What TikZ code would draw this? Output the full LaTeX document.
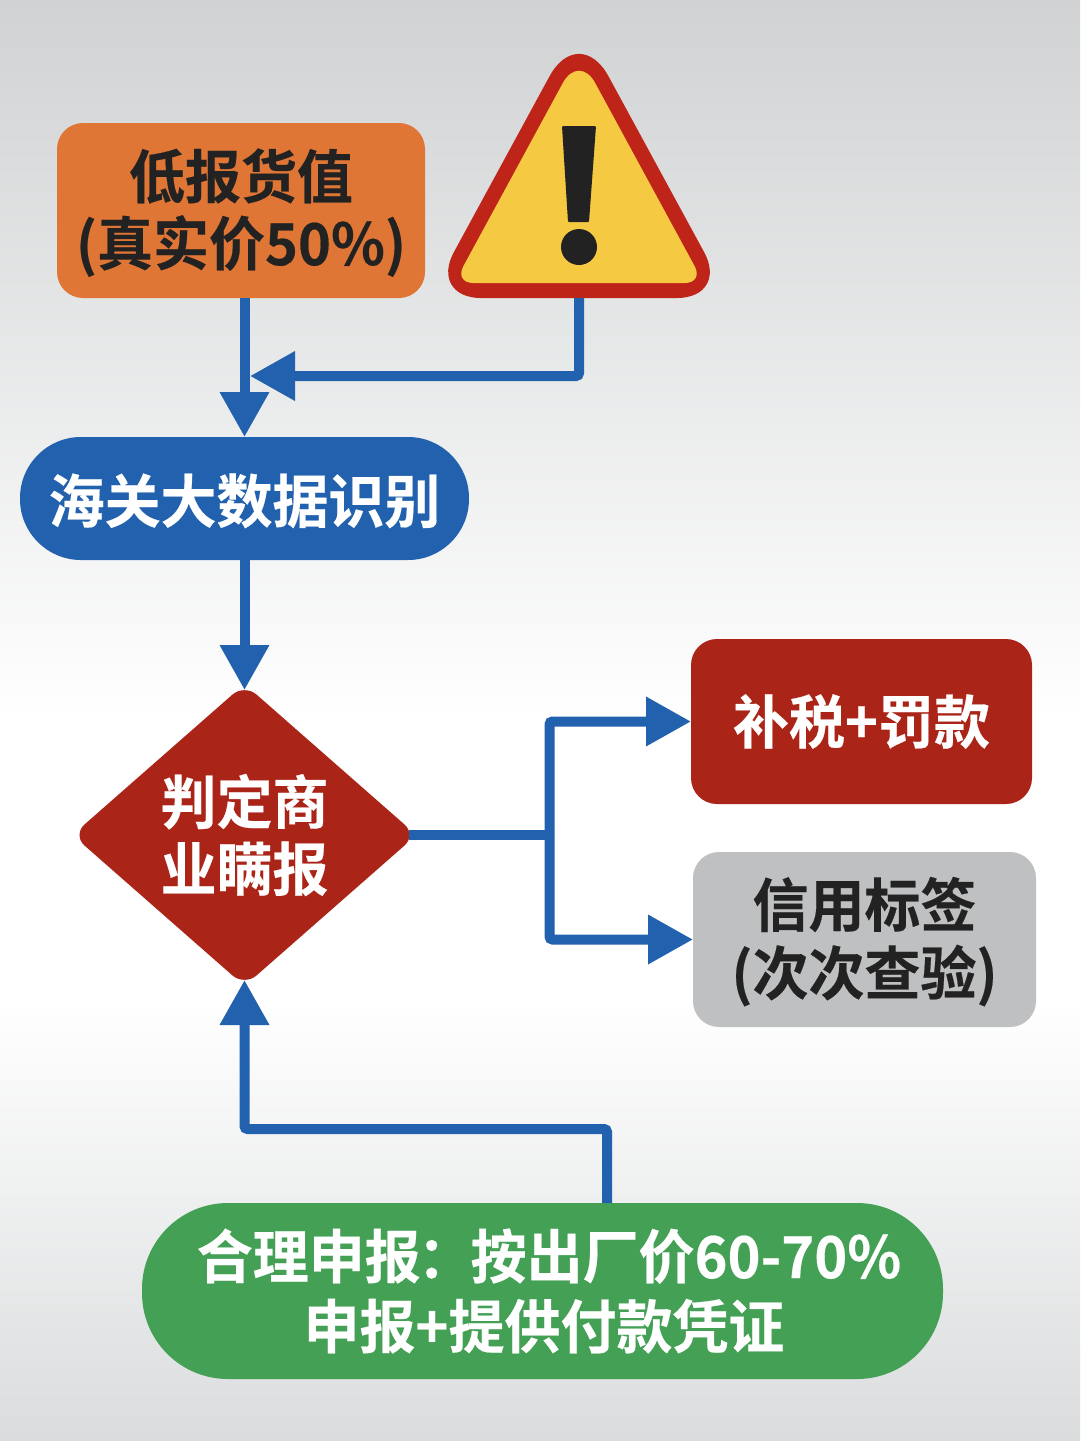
\documentclass[tikz,border=0pt]{standalone}
\usepackage{fontspec}
\usetikzlibrary{arrows.meta,shapes.geometric,calc}
\newfontfamily\cjk[FakeStretch=0.965,FakeBold=0.35]{Noto Sans CJK SC Bold}
\newcommand{\lineup}{\rule{0pt}{54pt}}
\definecolor{bgtop}{HTML}{D0D2D3}
\definecolor{bgmid}{HTML}{FFFFFF}
\definecolor{bgbot}{HTML}{DADCDD}
\definecolor{flowblue}{HTML}{2261AE}
\definecolor{boxorange}{HTML}{E07636}
\definecolor{boxred}{HTML}{AB2418}
\definecolor{boxgrey}{HTML}{BFC0C1}
\definecolor{boxgreen}{HTML}{43A054}
\definecolor{warnred}{HTML}{BF2419}
\definecolor{warnyellow}{HTML}{F5C942}
\definecolor{inkdark}{HTML}{222222}
\tikzset{
  x=1pt,y=-1pt,
  lbl/.style={font=\cjk\fontsize{58}{67}\selectfont,align=center,inner sep=0pt,outer sep=0pt},
  flowbox/.style={lbl,rounded corners=26pt,text=white},
  flow/.style={draw=flowblue,line width=10pt,rounded corners=3pt},
  flowtip/.style={flow,-{Triangle[width=47pt,length=45pt]}},
}
\begin{document}
\begin{tikzpicture}
\useasboundingbox (0,0) rectangle (1080,1441);
\shade[top color=bgtop,bottom color=bgmid] (0,0) rectangle (1080,720);
\fill[bgmid] (0,720) rectangle (1080,1000);
\shade[top color=bgmid,bottom color=bgbot] (0,1000) rectangle (1080,1441);

% warning sign: red outer form, yellow inner form
\fill[warnred] (549.4,76.5) .. controls (565.7,46.4) and (592.3,46.4) .. (608.6,76.5)
  -- (704.2,252.3) .. controls (717.9,277.5) and (705.7,298) .. (677,298)
  -- (481,298) .. controls (452.3,298) and (440.1,277.5) .. (453.8,252.3) -- cycle;
\fill[warnyellow] (562.8,83.1) .. controls (571.7,66.6) and (586.3,66.6) .. (595.2,83.1)
  -- (694.7,266.3) .. controls (699.7,275.5) and (695.3,283) .. (684.8,283)
  -- (473.2,283) .. controls (462.7,283) and (458.3,275.5) .. (463.3,266.3) -- cycle;
\fill[inkdark,rounded corners=1pt] (562,126) -- (596,126) -- (589,222) -- (568,222) -- cycle;
\fill[inkdark] (579,247) circle (18);
\coordinate (warnfoot) at (579,298);

% boxes
\node[flowbox,fill=boxorange,text=inkdark,minimum width=368pt,minimum height=175pt] (orange) at (241,210.5) {\lineup 低报货值\\(真实价50\%)};
\node[flowbox,fill=flowblue,rounded corners=61pt,minimum width=449pt,minimum height=123pt] (blue) at (244.5,498.5) {\lineup 海关大数据识别};
\node[lbl,shape=diamond,shape aspect=1.14,fill=boxred,text=white,rounded corners=16pt,minimum width=344pt,minimum height=302pt] (judge) at (244.5,835) {判定商\\业瞒报};
\node[flowbox,fill=boxred,minimum width=341pt,minimum height=165pt] (red) at (861.5,721.5) {补税+罚款};
\node[flowbox,fill=boxgrey,text=inkdark,minimum width=343pt,minimum height=175pt] (grey) at (864.5,939.5) {\lineup 信用标签\\[1pt](次次查验)};
\node[flowbox,fill=boxgreen,rounded corners=86pt,minimum width=801pt,minimum height=176pt] (green) at (542.5,1291) {\hspace*{13pt}合理申报\hspace{-3pt}：\hspace{-3pt}按出厂价60-70\%\\[3pt]\hspace*{3pt}申报+提供付款凭证};

% helper points on the visible corners
\coordinate (judgeN) at (244.5,690);
\coordinate (judgeS) at (244.5,980);
\coordinate (judgeE) at (409,835);
\coordinate (joinL) at (250,376);
\coordinate (hub) at (549.5,835);
\coordinate (greenfoot) at (607,1203);
\coordinate (greenbend) at (607,1129);

% connectors
\draw[flowtip] (blue.north |- orange.south) -- (blue.north);
\draw[flowtip] (warnfoot) |- (joinL);
\draw[flowtip] (blue.south) -- (judgeN);
\draw[flow] (judgeE) -- (hub);
\draw[flowtip] (hub) |- (red.west);
\draw[flowtip] (hub) |- (grey.west);
\draw[flowtip] (greenfoot) -- (greenbend) -| (judgeS);
\end{tikzpicture}
\end{document}
